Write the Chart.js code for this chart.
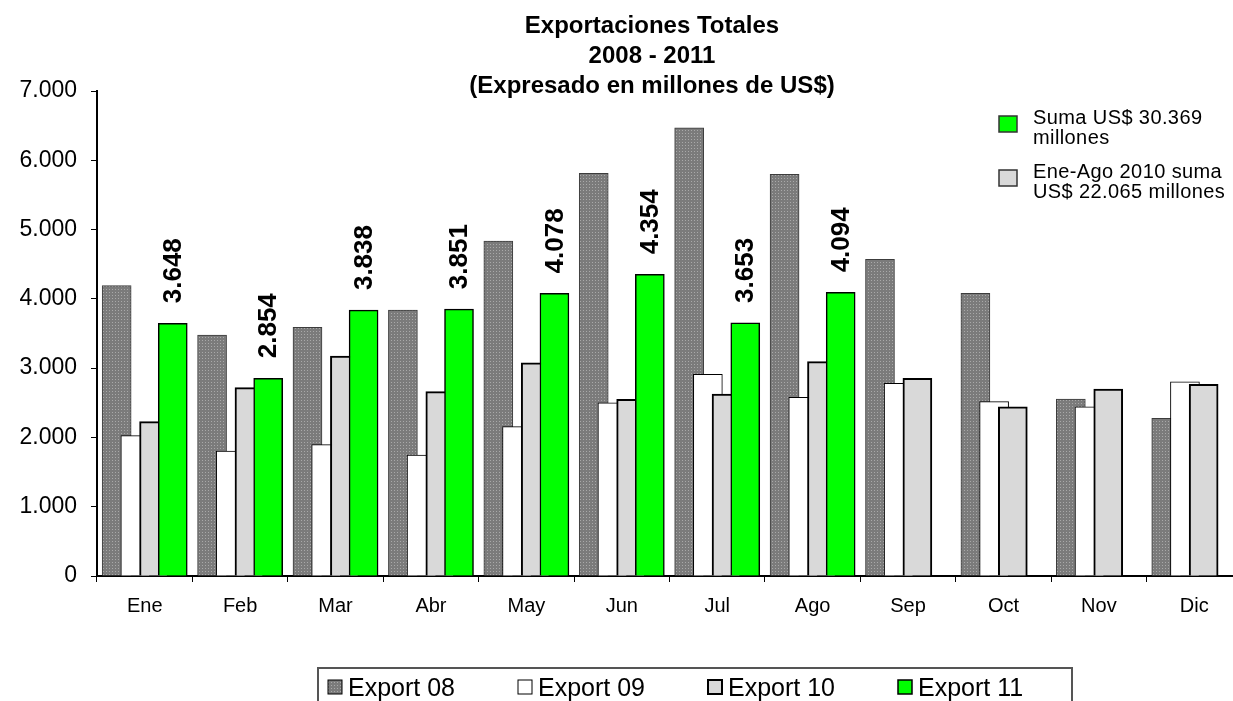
<!DOCTYPE html>
<html lang="es">
<head>
  <meta charset="UTF-8">
  <title>Exportaciones Totales 2008 - 2011</title>
  <script src="https://cdn.jsdelivr.net/npm/chart.js@4"></script>
  <style>
    html, body {
      margin: 0;
      padding: 0;
      background: #fff;
      overflow: hidden;
    }
    #wrap {
      width: 1245px;
      height: 720px;
    }
  </style>
</head>
<body>
  <div id="wrap"><canvas id="exportChart"></canvas></div>

  <script>
    const meses = ['Ene', 'Feb', 'Mar', 'Abr', 'May', 'Jun', 'Jul', 'Ago', 'Sep', 'Oct', 'Nov', 'Dic'];
    const export08 = [4190, 3478, 3589, 3838, 4834, 5811, 6470, 5796, 4570, 4079, 2554, 2276];
    const export09 = [2025, 1804, 1895, 1746, 2155, 2501, 2910, 2578, 2780, 2516, 2443, 2804];
    const export10 = [2227, 2718, 3175, 2660, 3078, 2549, 2626, 3093, 2852, 2443, 2698, 2766];
    const export11 = [3648, 2854, 3838, 3851, 4078, 4354, 3653, 4094, null, null, null, null];
    const titulo = ['Exportaciones Totales', '2008 - 2011', '(Expresado en millones de US$)'];
    const notaVerde = ['Suma US$ 30.369', 'millones'];
    const notaGris = ['Ene-Ago 2010 suma', 'US$ 22.065 millones'];

    const FONT = '"Liberation Sans", Arial, sans-serif';

    // miles con punto: 3648 -> 3.648
    function fmt(v) {
      return String(v).replace(/\B(?=(\d{3})+(?!\d))/g, '.');
    }

    // trama punteada de la serie 2008
    function trama() {
      const c = document.createElement('canvas');
      c.width = 3;
      c.height = 3;
      const g = c.getContext('2d');
      g.fillStyle = '#7b7b7b';
      g.fillRect(0, 0, 3, 3);
      g.fillStyle = '#a9a9a9';
      g.fillRect(1, 1, 1, 1);
      return g.createPattern(c, 'repeat');
    }

    const series = [
      { label: 'Export 08', values: export08, bg: trama(), border: '#3c3c3c', width: 1 },
      { label: 'Export 09', values: export09, bg: '#ffffff', border: '#000000', width: 1 },
      { label: 'Export 10', values: export10, bg: '#d9d9d9', border: '#000000', width: 2 },
      { label: 'Export 11', values: export11, bg: '#00ff00', border: '#000000', width: 1.5 }
    ];

    const paso = 0.196; // separación entre barras solapadas, en unidades de categoría

    const datasets = series.map((s, k) => ({
      label: s.label,
      data: s.values.map((v, i) => ({ x: i + (k - 1.5) * paso, y: v })),
      backgroundColor: s.bg,
      borderColor: s.border,
      borderWidth: s.width,
      borderSkipped: 'bottom',
      barThickness: 29,
      grouped: false,
      order: 3 - k,
      xAxisID: 'xl'
    }));

    const decoraciones = {
      id: 'decoraciones',
      afterDatasetsDraw(chart) {
        const ctx = chart.ctx;
        const meta = chart.getDatasetMeta(3);
        ctx.save();
        ctx.fillStyle = '#000';
        ctx.font = 'bold 26px ' + FONT;
        ctx.textAlign = 'left';
        ctx.textBaseline = 'middle';
        meta.data.forEach((bar, i) => {
          if (export11[i] == null) return;
          ctx.save();
          ctx.translate(bar.x + 1, bar.y - 20);
          ctx.rotate(-Math.PI / 2);
          ctx.fillText(fmt(export11[i]), 0, 0);
          ctx.restore();
        });
        ctx.restore();
      },
      afterDraw(chart) {
        const ctx = chart.ctx;
        ctx.save();
        ctx.fillStyle = '#000';

        // titulo
        ctx.font = 'bold 24px ' + FONT;
        ctx.textAlign = 'center';
        ctx.textBaseline = 'alphabetic';
        titulo.forEach((t, i) => ctx.fillText(t, 652, 33 + i * 30));

        // notas a la derecha
        const notas = [
          { lines: notaVerde, color: series[3].bg, top: 116 },
          { lines: notaGris, color: series[2].bg, top: 170 }
        ];
        ctx.textAlign = 'left';
        ctx.font = '20px ' + FONT;
        ctx.letterSpacing = '0.4px';
        notas.forEach(n => {
          ctx.fillStyle = n.color;
          ctx.fillRect(999, n.top, 18, 16);
          ctx.strokeStyle = '#333';
          ctx.lineWidth = 1.5;
          ctx.strokeRect(999, n.top, 18, 16);
          ctx.fillStyle = '#000';
          n.lines.forEach((t, i) => ctx.fillText(t, 1033, n.top + 8 + i * 20));
        });
        ctx.letterSpacing = '0px';

        // leyenda inferior con recuadro
        ctx.strokeStyle = '#555';
        ctx.lineWidth = 2;
        ctx.strokeRect(318, 668, 754, 80);
        ctx.font = '25px ' + FONT;
        series.forEach((s, k) => {
          const x = 328 + k * 190;
          ctx.fillStyle = s.bg;
          ctx.fillRect(x, 680, 14, 14);
          ctx.strokeStyle = '#000';
          ctx.lineWidth = s.width;
          ctx.strokeRect(x, 680, 14, 14);
          ctx.fillStyle = '#000';
          ctx.fillText(s.label, x + 20, 696);
        });
        ctx.restore();
      }
    };

    new Chart(document.getElementById('exportChart'), {
      type: 'bar',
      data: { datasets: datasets },
      options: {
        responsive: true,
        maintainAspectRatio: false,
        animation: false,
        layout: { padding: { top: 91, right: 3, left: 0, bottom: 0 } },
        plugins: {
          legend: { display: false },
          title: { display: false },
          tooltip: { enabled: false }
        },
        scales: {
          x: {
            type: 'category',
            position: 'bottom',
            labels: meses,
            offset: true,
            grid: { offset: true, drawOnChartArea: false, tickLength: 6, color: '#000' },
            border: { color: '#000', width: 2 },
            ticks: { color: '#000', font: { size: 20, family: FONT }, padding: 12, maxRotation: 0 },
            afterFit: s => { s.height = 144; }
          },
          xl: {
            type: 'linear',
            position: 'bottom',
            display: false,
            offset: false,
            min: -0.5,
            max: 11.5
          },
          y: {
            min: 0,
            max: 7000,
            grid: { drawOnChartArea: false, tickLength: 6, color: '#000' },
            border: { color: '#000', width: 2 },
            ticks: {
              stepSize: 1000,
              color: '#000',
              padding: 14,
              font: { size: 23, family: FONT },
              callback: v => fmt(v)
            },
            afterFit: s => { s.width = 97; }
          }
        }
      },
      plugins: [decoraciones]
    });
  </script>
</body>
</html>
